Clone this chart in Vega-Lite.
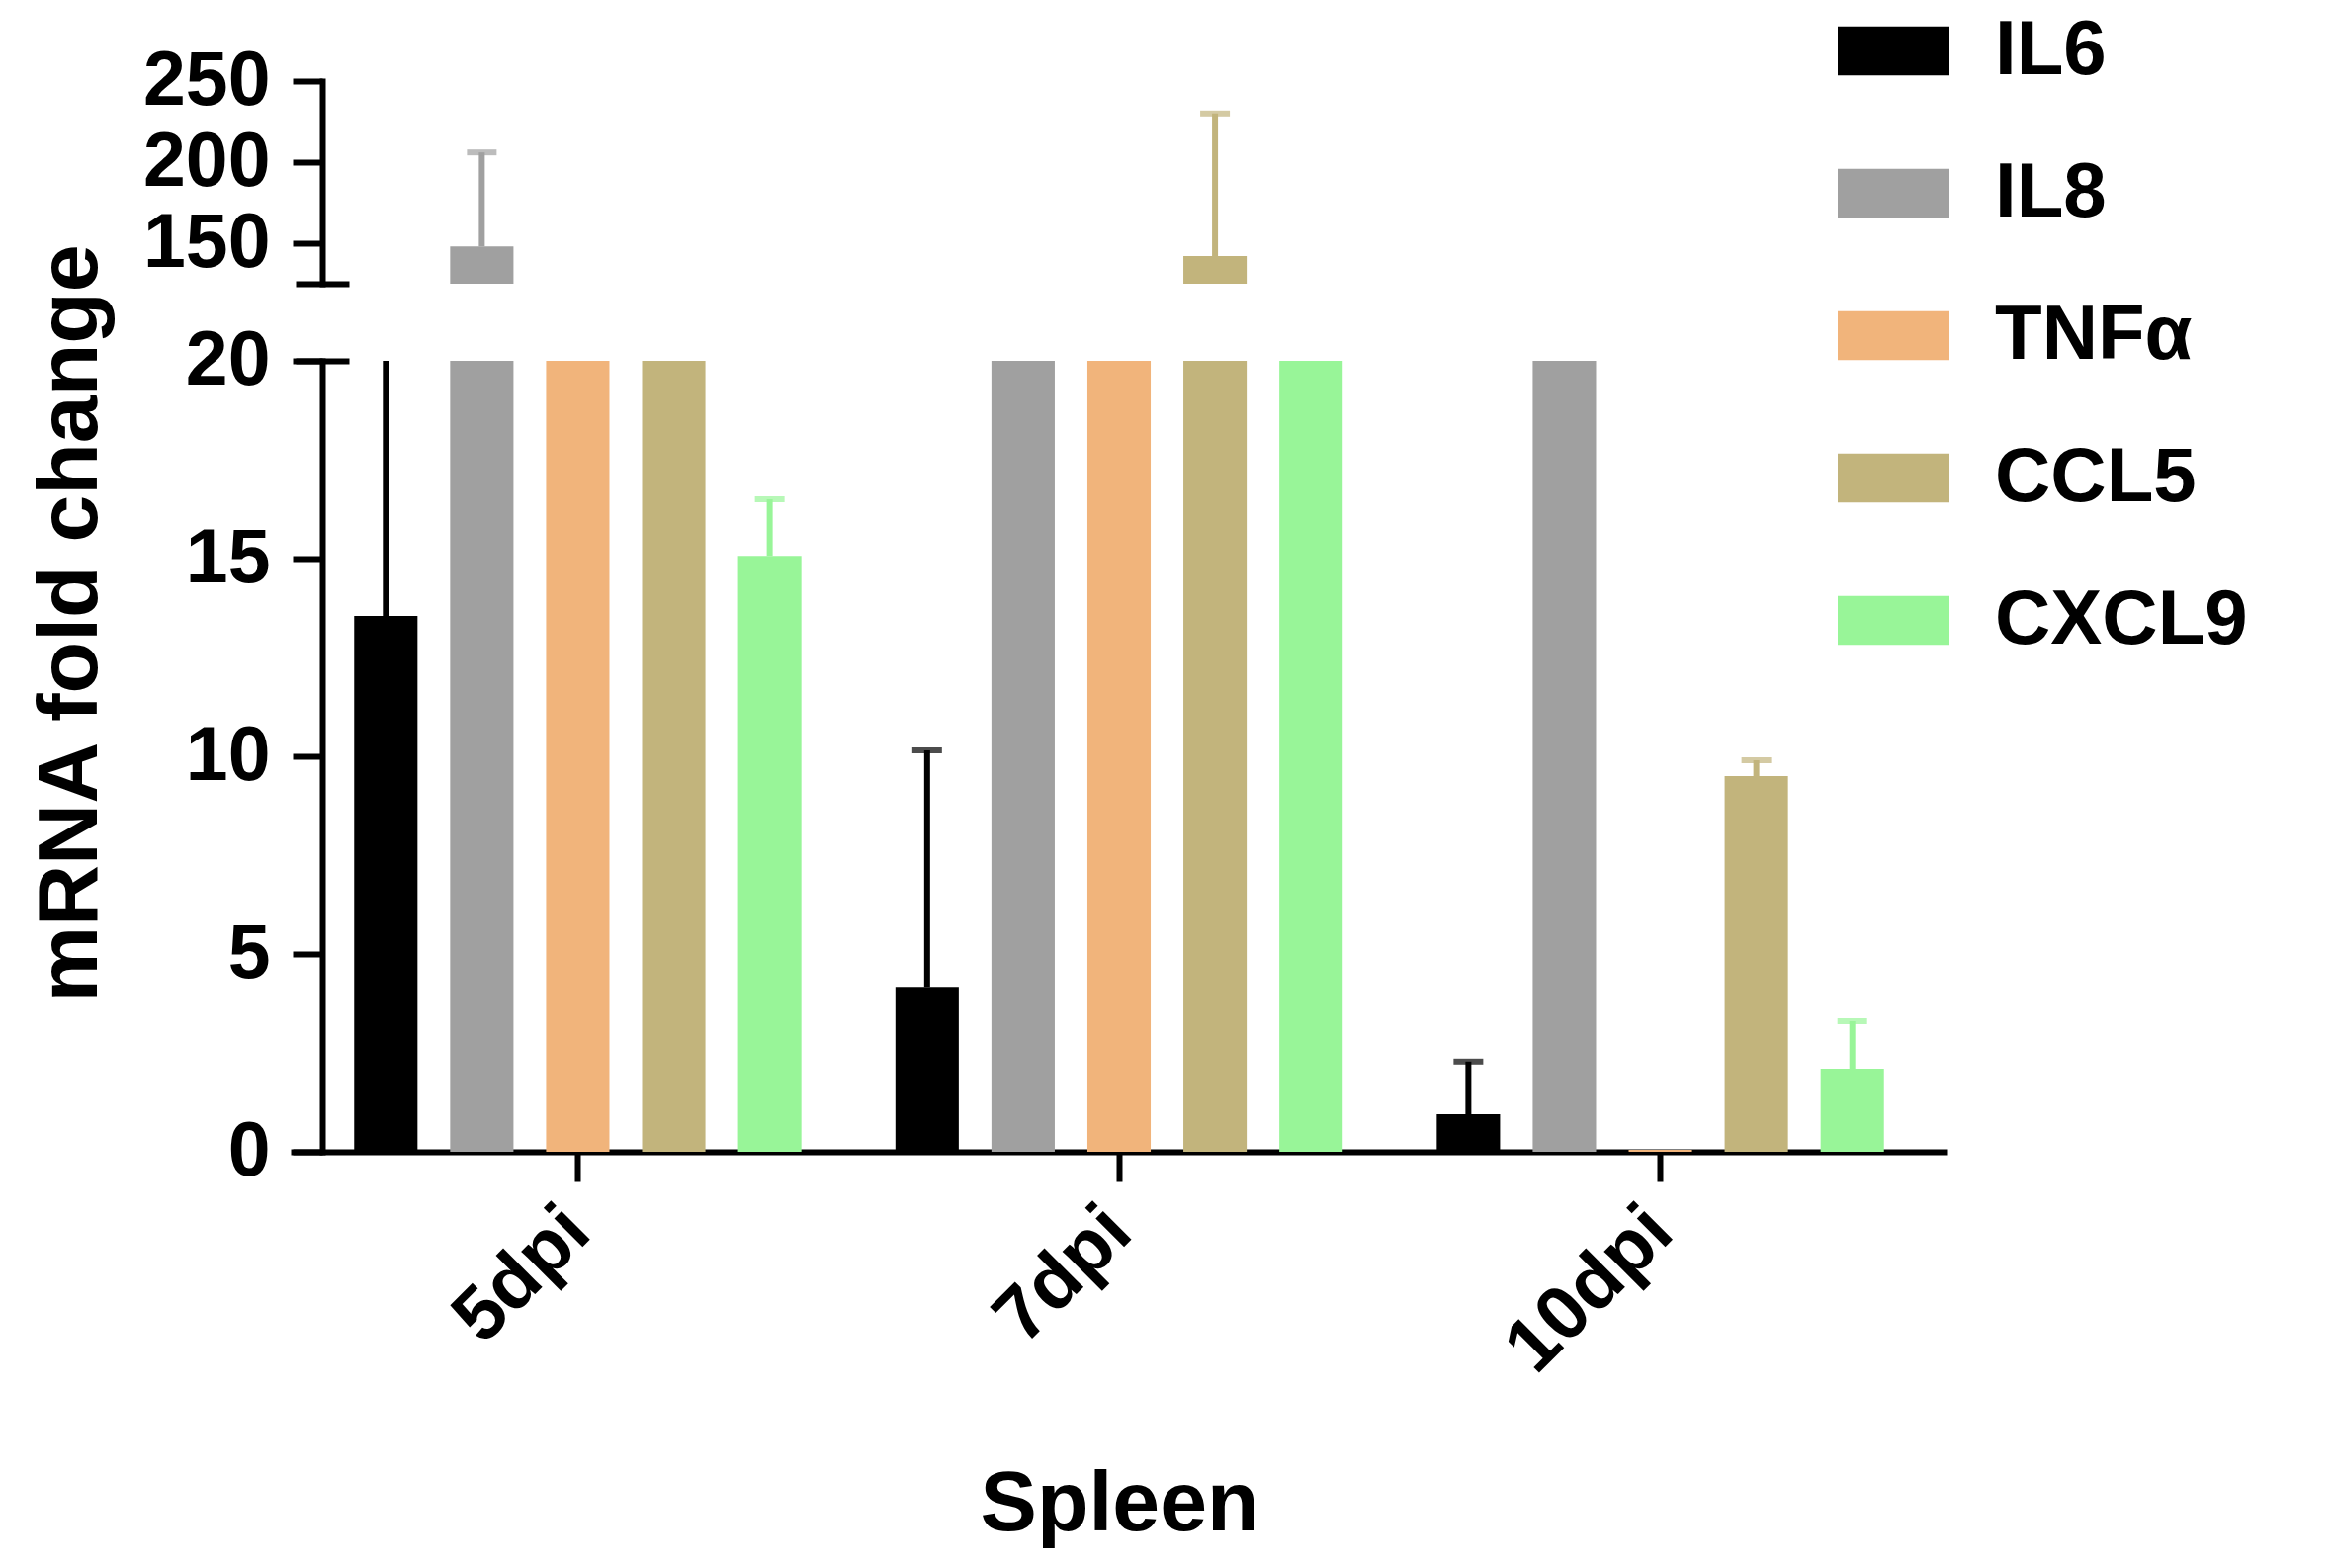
{
  "$schema": "https://vega.github.io/schema/vega-lite/v6.json",
  "background": "white",
  "autosize": {"type": "none"},
  "padding": {"left": 297, "top": 82, "right": 2065, "bottom": 1504},
  "data": {
    "values": [
      {"day": "5dpi", "gene": "IL6", "value": 13.55, "upper": 27},
      {"day": "5dpi", "gene": "IL8", "value": 148, "upper": 206},
      {"day": "5dpi", "gene": "TNFα", "value": 60, "upper": null},
      {"day": "5dpi", "gene": "CCL5", "value": 60, "upper": null},
      {"day": "5dpi", "gene": "CXCL9", "value": 15.07, "upper": 16.5},
      {"day": "7dpi", "gene": "IL6", "value": 4.17, "upper": 10.15},
      {"day": "7dpi", "gene": "IL8", "value": 60, "upper": null},
      {"day": "7dpi", "gene": "TNFα", "value": 60, "upper": null},
      {"day": "7dpi", "gene": "CCL5", "value": 142, "upper": 230},
      {"day": "7dpi", "gene": "CXCL9", "value": 60, "upper": null},
      {"day": "10dpi", "gene": "IL6", "value": 0.95, "upper": 2.28},
      {"day": "10dpi", "gene": "IL8", "value": 60, "upper": null},
      {"day": "10dpi", "gene": "TNFα", "value": 0.05, "upper": null},
      {"day": "10dpi", "gene": "CCL5", "value": 9.5, "upper": 9.9},
      {"day": "10dpi", "gene": "CXCL9", "value": 2.1, "upper": 3.3}
    ]
  },
  "config": {
    "font": "Liberation Sans",
    "view": {"stroke": null},
    "axis": {
      "grid": false,
      "domainColor": "black",
      "domainWidth": 6,
      "domainCap": "square",
      "tickColor": "black",
      "tickWidth": 6,
      "tickSize": 30,
      "labelFont": "Liberation Sans",
      "labelFontWeight": "bold",
      "labelFontSize": 77,
      "labelColor": "black",
      "labelLimit": 0,
      "titleFont": "Liberation Sans",
      "titleFontWeight": "bold",
      "titleFontSize": 86,
      "titleColor": "black"
    },
    "legend": {
      "orient": "none",
      "legendX": 1562,
      "legendY": -87,
      "title": null,
      "symbolType": "M-1,-0.44H1V0.44H-1Z",
      "symbolSize": 12769,
      "symbolStrokeWidth": 0,
      "symbolOpacity": 1,
      "labelFont": "Liberation Sans",
      "labelFontSize": 78,
      "labelFontWeight": "bold",
      "labelColor": "black",
      "labelOffset": 46,
      "labelLimit": 0,
      "rowPadding": 48,
      "padding": 0
    }
  },
  "spacing": 78,
  "bounds": "flush",
  "resolve": {"scale": {"x": "shared", "xOffset": "shared", "color": "shared"}},
  "vconcat": [
    {
      "width": 1670,
      "height": 205,
      "resolve": {"axis": {"y": "independent"}},
      "encoding": {
        "x": {"field": "day", "type": "nominal", "sort": ["5dpi", "7dpi", "10dpi"], "scale": {"paddingInner": 0, "paddingOuter": 0.025}, "axis": null},
        "xOffset": {"field": "gene", "type": "nominal", "sort": ["IL6", "IL8", "TNFα", "CCL5", "CXCL9"], "scale": {"paddingInner": 0.34, "paddingOuter": 0.49}},
        "color": {
          "field": "gene", "type": "nominal",
          "scale": {"domain": ["IL6", "IL8", "TNFα", "CCL5", "CXCL9"], "range": ["#000000", "#a0a0a0", "#f1b47b", "#c2b47c", "#98f598"]}
        }
      },
      "layer": [
        {
          "mark": {"type": "bar", "clip": true},
          "encoding": {
            "y": {"field": "value", "type": "quantitative", "scale": {"domain": [125, 250], "zero": false, "nice": false},
                  "axis": {"values": [150, 200, 250], "title": null, "offset": -29, "labelPadding": 23}}
          }
        },
        {
          "transform": [{"filter": "datum.upper != null"}],
          "mark": {"type": "rule", "clip": true, "strokeWidth": 6},
          "encoding": {
            "y": {"field": "value", "type": "quantitative", "axis": null},
            "y2": {"field": "upper"}
          }
        },
        {
          "transform": [{"filter": "datum.upper != null"}],
          "mark": {"type": "tick", "clip": true, "thickness": 6, "size": 30, "orient": "horizontal"},
          "encoding": {
            "y": {"field": "upper", "type": "quantitative",
                  "axis": {"orient": "left", "values": [125], "labels": false, "domain": false, "title": null, "offset": -56, "tickSize": 54}}
          }
        }
      ]
    },
    {
      "width": 1670,
      "height": 800,
      "resolve": {"axis": {"y": "independent"}},
      "encoding": {
        "x": {"field": "day", "type": "nominal", "sort": ["5dpi", "7dpi", "10dpi"], "scale": {"paddingInner": 0, "paddingOuter": 0.025},
              "axis": {"title": "Spleen", "labelAngle": -45, "labelBaseline": "middle", "labelPadding": 38, "titlePadding": 114}},
        "xOffset": {"field": "gene", "type": "nominal", "sort": ["IL6", "IL8", "TNFα", "CCL5", "CXCL9"], "scale": {"paddingInner": 0.34, "paddingOuter": 0.49}},
        "color": {"field": "gene", "type": "nominal"}
      },
      "layer": [
        {
          "mark": {"type": "bar", "clip": true},
          "encoding": {
            "y": {"field": "value", "type": "quantitative", "scale": {"domain": [0, 20], "nice": false},
                  "axis": {"values": [0, 5, 10, 15, 20], "title": "mRNA fold change", "titleY": 265, "titlePadding": 72, "offset": -29, "labelPadding": 23}}
          }
        },
        {
          "transform": [{"filter": "datum.upper != null"}],
          "mark": {"type": "rule", "clip": true, "strokeWidth": 6},
          "encoding": {
            "y": {"field": "value", "type": "quantitative", "axis": null},
            "y2": {"field": "upper"}
          }
        },
        {
          "transform": [{"filter": "datum.upper != null"}],
          "mark": {"type": "tick", "clip": true, "thickness": 6, "size": 30, "orient": "horizontal"},
          "encoding": {
            "y": {"field": "upper", "type": "quantitative",
                  "axis": {"orient": "left", "values": [20], "labels": false, "domain": false, "title": null, "offset": -56, "tickSize": 54}}
          }
        }
      ]
    }
  ]
}
